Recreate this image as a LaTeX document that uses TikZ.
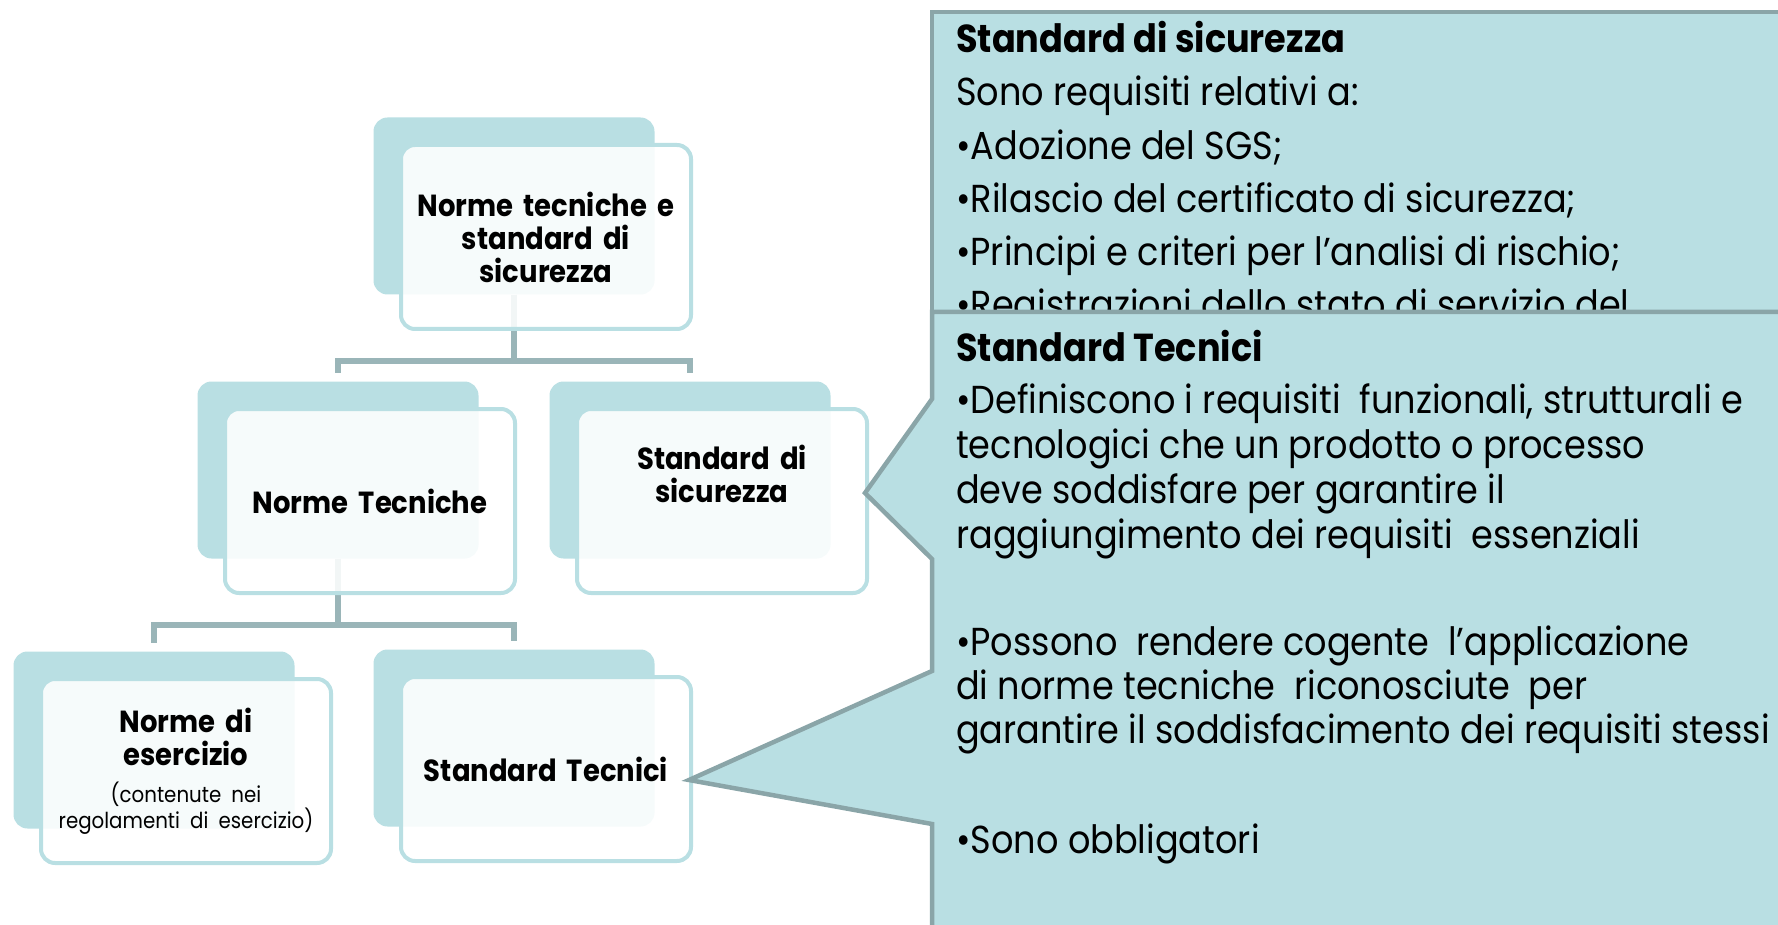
\documentclass[tikz,border=0pt]{standalone}
\usepackage{fontspec}
\setmainfont[FakeStretch=0.9]{Poppins}

\definecolor{celeste}{HTML}{B9DFE3}
\definecolor{bordo}{HTML}{8AA5A8}
\definecolor{linea}{HTML}{9AB5B8}

\begin{document}
\begin{tikzpicture}[x=1pt, y=-1pt,
    dietro/.style={fill=celeste, rounded corners=14pt, minimum width=281pt, minimum height=177pt, inner sep=0pt},
    davanti/.style={draw=celeste, line width=4pt, fill=white, fill opacity=0.88, text opacity=1, rounded corners=14pt,
        minimum width=290pt, minimum height=184pt, inner sep=0pt, text width=280pt, align=center,
        font=\fontsize{30.5}{33}\selectfont\bfseries},
    ramo/.style={draw=linea, line width=6pt, shorten >=8pt},
    pannello/.style={draw=bordo, fill=celeste, line width=4.5pt},
    riga/.style={anchor=base west, inner sep=0pt, font=\fontsize{39}{44}\selectfont}]

\useasboundingbox (0,0) rectangle (1778,925);
\clip (0,0) rectangle (1778,925);

% albero
\node[dietro] (ntsb) at (514,206) {};
\node[dietro] (ntb) at (338,470) {};
\node[dietro] (sdsb) at (690,470) {};
\node[dietro] (ndeb) at (154,740) {};
\node[dietro] (stdb) at (514,738) {};

\draw[ramo] (ntsb.south) -- ++(0,66) -| (ntb.north);
\draw[ramo] (ntsb.south) -- ++(0,66) -| (sdsb.north);
\draw[ramo] (ntb.south) -- ++(0,66) -| (ndeb.north);
\draw[ramo] (ntb.south) -- ++(0,66) -| (stdb.north);

\node[davanti] (nts) at ([shift={(32,31)}]ntsb.center) {Norme tecniche e\\standard di\\sicurezza};
\node[davanti] (nt) at ([shift={(32,31)}]ntb.center) {Norme Tecniche};
\node[davanti] (sds) at ([shift={(32,31)}]sdsb.center) {Standard di\\sicurezza\\\rule[-22pt]{0pt}{22pt}};
\node[davanti] (nde) at ([shift={(32,31)}]ndeb.center) {Norme di\\esercizio\par\vspace{13pt}
    {\fontsize{22}{24}\selectfont\mdseries (contenute nei\\regolamenti di esercizio)\par}};
\node[davanti] (std) at ([shift={(32,31)}]stdb.center) {Standard Tecnici};

% riquadri a destra
\draw[pannello] (932,12) rectangle (1800,420);
\node[riga, font=\fontsize{39}{44}\selectfont\bfseries] (tit1) at (956,53) {Standard di sicurezza};
\node[riga] (s1) at (956,106) {Sono requisiti relativi a:};
\node[riga] (s2) at (956,160) {•Adozione del SGS;};
\node[riga] (s3) at (956,213) {•Rilascio del certificato di sicurezza;};
\node[riga] (s4) at (956,266) {•Principi e criteri per l’analisi di rischio;};
\node[riga] (s5) at (956,319) {•Registrazioni dello stato di servizio del};

\coordinate (punta1) at ([shift={(-4,-8)}]sds.east);
\coordinate (punta2) at ([shift={(-4,11)}]std.east);
\draw[pannello] (932,312) -- (1800,312) -- (1800,950) -- (932,950) -- (932,824) -- (punta2)
    -- (932,671) -- (932,559) -- (punta1) -- (932,399) -- cycle;

\node[riga, font=\fontsize{39}{44}\selectfont\bfseries] (tit2) at (956,362) {Standard Tecnici};
\node[riga] (t1) at (956,413) {•Definiscono i requisiti\ \ funzionali, strutturali e};
\node[riga] (t2) at (956,458) {tecnologici che un prodotto o processo};
\node[riga] (t3) at (956,503) {deve soddisfare per garantire il};
\node[riga] (t4) at (956,548) {raggiungimento dei requisiti\ \ essenziali};
\node[riga] (t5) at (956,655) {•Possono\ \ rendere cogente\ \ l’applicazione};
\node[riga] (t6) at (956,699) {di norme tecniche\ \ riconosciute\ \ per};
\node[riga] (t7) at (956,743) {garantire il soddisfacimento dei requisiti stessi};
\node[riga] (t8) at (956,853) {•Sono obbligatori};
\end{tikzpicture}
\end{document}
